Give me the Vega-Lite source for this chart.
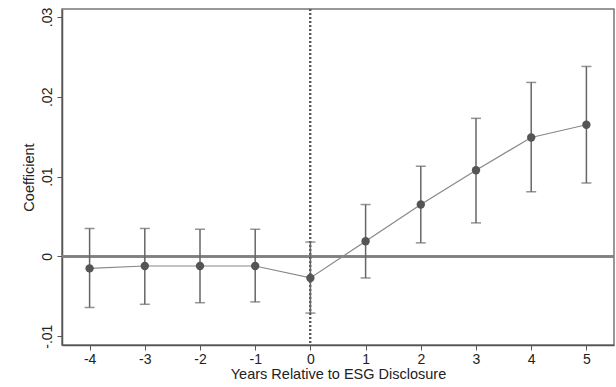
{
  "$schema": "https://vega.github.io/schema/vega-lite/v6.json",
  "width": 552,
  "height": 336,
  "autosize": "none",
  "padding": {"left": 62, "top": 9, "right": 2, "bottom": 42},
  "background": "white",
  "config": {
    "view": {"stroke": "#777", "strokeWidth": 1.5},
    "font": "Liberation Sans"
  },
  "data": {
    "values": [
      {"year": -4, "coef": -0.0015, "lo": -0.0064, "hi": 0.0035},
      {"year": -3, "coef": -0.0012, "lo": -0.0060, "hi": 0.0035},
      {"year": -2, "coef": -0.0012, "lo": -0.0058, "hi": 0.0034},
      {"year": -1, "coef": -0.0012, "lo": -0.0057, "hi": 0.0034},
      {"year": 0, "coef": -0.0027, "lo": -0.0071, "hi": 0.0018},
      {"year": 1, "coef": 0.0019, "lo": -0.0027, "hi": 0.0065},
      {"year": 2, "coef": 0.0065, "lo": 0.0017, "hi": 0.0113},
      {"year": 3, "coef": 0.0108, "lo": 0.0042, "hi": 0.0173},
      {"year": 4, "coef": 0.0149, "lo": 0.0081, "hi": 0.0218},
      {"year": 5, "coef": 0.0165, "lo": 0.0092, "hi": 0.0238}
    ]
  },
  "encoding": {
    "x": {
      "field": "year", "type": "quantitative",
      "scale": {"domain": [-4.5, 5.5], "nice": false, "zero": false},
      "axis": {
        "title": "Years Relative to ESG Disclosure",
        "values": [-4, -3, -2, -1, 0, 1, 2, 3, 4, 5],
        "labelExpr": "replace(datum.label, '\u2212', '-')",
        "grid": false, "domainColor": "#555", "domainWidth": 1.5,
        "tickColor": "#555", "tickSize": 5, "labelFontSize": 14, "labelColor": "#222",
        "titleFontSize": 14.5, "titleFontWeight": "normal", "titleColor": "#222",
        "labelPadding": 2, "titlePadding": 1
      }
    }
  },
  "layer": [
    {
      "mark": {"type": "rule", "color": "#808080", "strokeWidth": 1.5},
      "encoding": {
        "y": {
          "datum": 0, "type": "quantitative",
          "scale": {"domain": [-0.0111, 0.031], "nice": false},
          "axis": {
            "title": "Coefficient",
            "values": [-0.01, 0, 0.01, 0.02, 0.03],
            "labelExpr": "datum.value == 0 ? '0' : (datum.value < 0 ? '-' : '') + replace(format(abs(datum.value), '.2f'), '0.', '.')",
            "labelAngle": -90, "labelAlign": "center", "labelBaseline": "bottom",
            "grid": false, "domainColor": "#555", "domainWidth": 1.5,
            "tickColor": "#555", "tickSize": 5, "labelFontSize": 14, "labelColor": "#222",
            "titleFontSize": 14.5, "titleFontWeight": "normal", "titleColor": "#222",
            "labelPadding": 3, "titlePadding": 4
          }
        },
        "x": null
      }
    },
    {
      "mark": {"type": "rule", "color": "#555", "strokeWidth": 1.3, "strokeDash": [2, 2]},
      "encoding": {"x": {"datum": 0, "type": "quantitative"}}
    },
    {
      "mark": {"type": "rule", "color": "#666", "strokeWidth": 1.5},
      "encoding": {
        "y": {"field": "lo", "type": "quantitative"},
        "y2": {"field": "hi"}
      }
    },
    {
      "mark": {"type": "tick", "color": "#666", "orient": "horizontal", "size": 10, "thickness": 1.5},
      "encoding": {"y": {"field": "lo", "type": "quantitative"}}
    },
    {
      "mark": {"type": "tick", "color": "#666", "orient": "horizontal", "size": 10, "thickness": 1.5},
      "encoding": {"y": {"field": "hi", "type": "quantitative"}}
    },
    {
      "mark": {"type": "line", "color": "#888", "strokeWidth": 1.2},
      "encoding": {"y": {"field": "coef", "type": "quantitative"}}
    },
    {
      "mark": {"type": "circle", "color": "#555", "opacity": 1, "size": 70},
      "encoding": {"y": {"field": "coef", "type": "quantitative"}}
    }
  ]
}
